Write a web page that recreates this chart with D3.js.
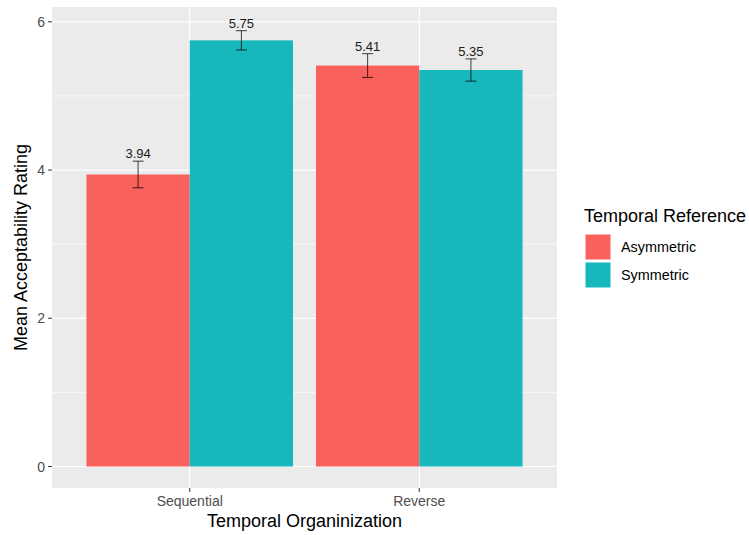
<!DOCTYPE html>
<html>
<head>
<meta charset="utf-8">
<script src="https://cdn.jsdelivr.net/npm/d3@7"></script>
<style>
  body { margin: 0; background: #fff; }
  svg { display: block; font-family: "Liberation Sans", Arial, sans-serif; }
</style>
</head>
<body>
<div id="chart"></div>
<script>
const categories = ["Sequential", "Reverse"];
const groups = ["Asymmetric", "Symmetric"];
const meanAsymmetric = [3.94, 5.41];
const meanSymmetric = [5.75, 5.35];
const errAsymmetric = [0.18, 0.16];
const errSymmetric = [0.13, 0.15];
const yTicks = [0, 2, 4, 6];
const yMinor = [1, 3, 5];
const colors = ["#F9615D", "#17B8BC"];

const W = 749, H = 535;
const panel = { left: 52, right: 557, top: 7, bottom: 488 };

const rows = [];
categories.forEach((c, i) => {
  rows.push({ cat: c, grp: groups[0], mean: meanAsymmetric[i], err: errAsymmetric[i] });
  rows.push({ cat: c, grp: groups[1], mean: meanSymmetric[i], err: errSymmetric[i] });
});

const svg = d3.select("#chart").append("svg").attr("width", W).attr("height", H);

// x scale: ggplot discrete with 0.6 expansion
const xCont = d3.scaleLinear().domain([0.4, categories.length + 0.6]).range([panel.left, panel.right]);
const xBand = d3.scalePoint().domain(categories).range([xCont(1), xCont(categories.length)]);
const unit = xCont(1) - xCont(0);
const xGroup = d3.scaleBand().domain(groups).range([-0.45 * unit, 0.45 * unit]).padding(0);

const y = d3.scaleLinear().domain([-0.29, 6.2]).range([panel.bottom, panel.top]);

// panel background
svg.append("rect").attr("x", panel.left).attr("y", panel.top)
  .attr("width", panel.right - panel.left).attr("height", panel.bottom - panel.top)
  .attr("fill", "#EBEBEB");

// minor gridlines
svg.append("g").selectAll("line").data(yMinor).join("line")
  .attr("x1", panel.left).attr("x2", panel.right)
  .attr("y1", d => y(d)).attr("y2", d => y(d))
  .attr("stroke", "#fff").attr("stroke-width", 0.6);
// major gridlines
svg.append("g").selectAll("line").data(yTicks).join("line")
  .attr("x1", panel.left).attr("x2", panel.right)
  .attr("y1", d => y(d)).attr("y2", d => y(d))
  .attr("stroke", "#fff").attr("stroke-width", 1.2);
svg.append("g").selectAll("line").data(categories).join("line")
  .attr("x1", d => xBand(d)).attr("x2", d => xBand(d))
  .attr("y1", panel.top).attr("y2", panel.bottom)
  .attr("stroke", "#fff").attr("stroke-width", 1.2);

// bars
svg.append("g").selectAll("rect").data(rows).join("rect")
  .attr("x", d => xBand(d.cat) + xGroup(d.grp))
  .attr("width", xGroup.bandwidth())
  .attr("y", d => y(d.mean))
  .attr("height", d => y(0) - y(d.mean))
  .attr("fill", d => colors[groups.indexOf(d.grp)]);

// error bars
const capHalf = 5.5;
const eb = svg.append("g").attr("stroke", "#000").attr("stroke-opacity", 0.75).attr("stroke-width", 1);
rows.forEach(d => {
  const cx = xBand(d.cat) + xGroup(d.grp) + xGroup.bandwidth() / 2;
  const t = y(d.mean + d.err), b = y(d.mean - d.err);
  eb.append("line").attr("x1", cx).attr("x2", cx).attr("y1", t).attr("y2", b);
  eb.append("line").attr("x1", cx - capHalf).attr("x2", cx + capHalf).attr("y1", t).attr("y2", t);
  eb.append("line").attr("x1", cx - capHalf).attr("x2", cx + capHalf).attr("y1", b).attr("y2", b);
});

// value labels
svg.append("g").selectAll("text").data(rows).join("text")
  .attr("x", d => xBand(d.cat) + xGroup(d.grp) + xGroup.bandwidth() / 2)
  .attr("y", d => y(d.mean + d.err) - 3)
  .attr("text-anchor", "middle")
  .attr("font-size", 13)
  .attr("fill", "#1a1a1a")
  .text(d => d.mean.toFixed(2));

// y axis
const yAxis = svg.append("g");
yTicks.forEach(t => {
  yAxis.append("line").attr("x1", panel.left - 4).attr("x2", panel.left)
    .attr("y1", y(t)).attr("y2", y(t)).attr("stroke", "#333").attr("stroke-width", 1);
  yAxis.append("text").attr("x", panel.left - 7).attr("y", y(t)).attr("dy", "0.36em")
    .attr("text-anchor", "end").attr("font-size", 14).attr("fill", "#4d4d4d").text(t);
});

// x axis
const xAxis = svg.append("g");
categories.forEach(c => {
  xAxis.append("line").attr("x1", xBand(c)).attr("x2", xBand(c))
    .attr("y1", panel.bottom).attr("y2", panel.bottom + 4).attr("stroke", "#333").attr("stroke-width", 1);
  xAxis.append("text").attr("x", xBand(c)).attr("y", panel.bottom + 18)
    .attr("text-anchor", "middle").attr("font-size", 14).attr("fill", "#4d4d4d").text(c);
});

// axis titles
svg.append("text").attr("x", (panel.left + panel.right) / 2).attr("y", 527)
  .attr("text-anchor", "middle").attr("font-size", 18).attr("fill", "#000")
  .text("Temporal Organinization");
svg.append("text").attr("transform", `translate(27,${(panel.top + panel.bottom) / 2}) rotate(-90)`)
  .attr("text-anchor", "middle").attr("font-size", 18).attr("fill", "#000")
  .text("Mean Acceptability Rating");

// legend
const lg = svg.append("g").attr("transform", "translate(584,0)");
lg.append("text").attr("x", 0).attr("y", 222).attr("font-size", 18).attr("fill", "#000").text("Temporal Reference");
groups.forEach((g, i) => {
  lg.append("rect").attr("x", 1).attr("y", 234 + i * 28).attr("width", 26).attr("height", 26)
    .attr("fill", colors[i]).attr("stroke", "#fff").attr("stroke-width", 1);
  lg.append("text").attr("x", 37).attr("y", 247 + i * 28).attr("dy", "0.36em")
    .attr("font-size", 14.4).attr("fill", "#000").text(g);
});
</script>
</body>
</html>
